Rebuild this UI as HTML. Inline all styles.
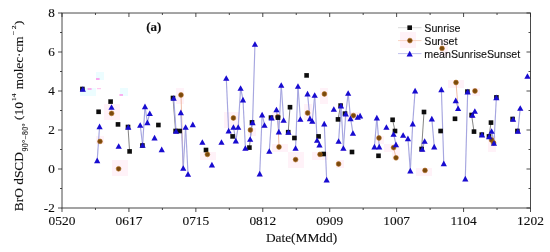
<!DOCTYPE html><html><head><meta charset="utf-8"><title>chart</title><style>html,body{margin:0;padding:0;background:#fff}svg{display:block}text{font-family:"Liberation Serif",serif;fill:#111;stroke:#111;stroke-width:0.12px}.s{font-family:"Liberation Sans",sans-serif;stroke-width:0.1px}</style></head><body>
<svg width="550" height="252" viewBox="0 0 550 252">
<rect width="550" height="252" fill="#fff"/>
<defs><filter id="b" x="0" y="0" width="550" height="252" filterUnits="userSpaceOnUse"><feGaussianBlur stdDeviation="0.5"/></filter></defs><g filter="url(#b)">
<rect x="96" y="136" width="8" height="8" fill="#fff2f8"/>
<rect x="104" y="104" width="8" height="8" fill="#fff2f8"/>
<rect x="104" y="112" width="8" height="8" fill="#fff2f8"/>
<rect x="112" y="104" width="8" height="8" fill="#fff2f8"/>
<rect x="112" y="112" width="8" height="8" fill="#fff2f8"/>
<rect x="112" y="160" width="8" height="8" fill="#fff2f8"/>
<rect x="112" y="168" width="8" height="8" fill="#fff2f8"/>
<rect x="120" y="160" width="8" height="8" fill="#fff2f8"/>
<rect x="120" y="168" width="8" height="8" fill="#fff2f8"/>
<rect x="176" y="88" width="8" height="8" fill="#fff2f8"/>
<rect x="176" y="96" width="8" height="8" fill="#fff2f8"/>
<rect x="200" y="152" width="8" height="8" fill="#fff2f8"/>
<rect x="208" y="152" width="8" height="8" fill="#fff2f8"/>
<rect x="224" y="112" width="8" height="8" fill="#fff2f8"/>
<rect x="224" y="120" width="8" height="8" fill="#fff2f8"/>
<rect x="232" y="112" width="8" height="8" fill="#fff2f8"/>
<rect x="232" y="120" width="8" height="8" fill="#fff2f8"/>
<rect x="248" y="128" width="8" height="8" fill="#fff2f8"/>
<rect x="272" y="112" width="8" height="8" fill="#fff2f8"/>
<rect x="272" y="144" width="8" height="8" fill="#fff2f8"/>
<rect x="280" y="144" width="8" height="8" fill="#fff2f8"/>
<rect x="288" y="152" width="8" height="8" fill="#fff2f8"/>
<rect x="288" y="160" width="8" height="8" fill="#fff2f8"/>
<rect x="296" y="152" width="8" height="8" fill="#fff2f8"/>
<rect x="296" y="160" width="8" height="8" fill="#fff2f8"/>
<rect x="304" y="104" width="8" height="8" fill="#fff2f8"/>
<rect x="304" y="112" width="8" height="8" fill="#fff2f8"/>
<rect x="312" y="152" width="8" height="8" fill="#fff2f8"/>
<rect x="320" y="88" width="8" height="8" fill="#fff2f8"/>
<rect x="320" y="96" width="8" height="8" fill="#fff2f8"/>
<rect x="320" y="152" width="8" height="8" fill="#fff2f8"/>
<rect x="336" y="160" width="8" height="8" fill="#fff2f8"/>
<rect x="344" y="112" width="8" height="8" fill="#fff2f8"/>
<rect x="352" y="112" width="8" height="8" fill="#fff2f8"/>
<rect x="376" y="136" width="8" height="8" fill="#fff2f8"/>
<rect x="384" y="144" width="8" height="8" fill="#fff2f8"/>
<rect x="392" y="144" width="8" height="8" fill="#fff2f8"/>
<rect x="392" y="152" width="8" height="8" fill="#fff2f8"/>
<rect x="400" y="32" width="8" height="8" fill="#fff2f8"/>
<rect x="400" y="40" width="8" height="8" fill="#fff2f8"/>
<rect x="408" y="32" width="8" height="8" fill="#fff2f8"/>
<rect x="408" y="40" width="8" height="8" fill="#fff2f8"/>
<rect x="416" y="168" width="8" height="8" fill="#fff2f8"/>
<rect x="424" y="168" width="8" height="8" fill="#fff2f8"/>
<rect x="440" y="40" width="8" height="8" fill="#fff2f8"/>
<rect x="440" y="48" width="8" height="8" fill="#fff2f8"/>
<rect x="448" y="80" width="8" height="8" fill="#fff2f8"/>
<rect x="456" y="80" width="8" height="8" fill="#fff2f8"/>
<rect x="472" y="88" width="8" height="8" fill="#fff2f8"/>
<rect x="488" y="136" width="8" height="8" fill="#fff2f8"/>
<rect x="488" y="144" width="8" height="8" fill="#fff2f8"/>
<rect x="96" y="72" width="8" height="8" fill="#ecfdff"/>
<rect x="80" y="88" width="16" height="8" fill="#ecfdff"/>
<rect x="120" y="88" width="8" height="8" fill="#ecfdff"/>
<rect x="96.0" y="78.4" width="3.6" height="1.2" fill="#ff70e4"/>
<rect x="87.6" y="88.4" width="4" height="1.2" fill="#ff80e6"/>
<rect x="97.0" y="88.0" width="4" height="1.2" fill="#ffc8f0"/>
<rect x="119.4" y="94.4" width="3.6" height="1.2" fill="#ff80e6"/>
<line x1="128" y1="127" x2="129.6" y2="151.4" stroke="#666" stroke-width="0.8"/>
<line x1="173" y1="98" x2="175.6" y2="131" stroke="#666" stroke-width="0.8"/>
<line x1="249.4" y1="147.6" x2="252" y2="122.4" stroke="#666" stroke-width="0.8"/>
<line x1="288.2" y1="132.2" x2="290" y2="107.2" stroke="#666" stroke-width="0.8"/>
<line x1="338" y1="119.4" x2="340.6" y2="105.6" stroke="#666" stroke-width="0.8"/>
<line x1="392.6" y1="119.8" x2="395" y2="131" stroke="#666" stroke-width="0.8"/>
<line x1="421.6" y1="149" x2="424" y2="112" stroke="#666" stroke-width="0.8"/>
<line x1="471.6" y1="115" x2="474" y2="131.6" stroke="#666" stroke-width="0.8"/>
<line x1="489" y1="136.4" x2="491" y2="122.6" stroke="#666" stroke-width="0.8"/>
<line x1="181" y1="95" x2="183.2" y2="168" stroke="#e8a488" stroke-width="0.75"/>
<line x1="277.8" y1="116.8" x2="279" y2="147" stroke="#e8a488" stroke-width="0.75"/>
<line x1="393.6" y1="147.6" x2="396" y2="157.8" stroke="#e8a488" stroke-width="0.75"/>
<line x1="456" y1="82.5" x2="458.1" y2="108.2" stroke="#e8a488" stroke-width="0.75"/>
<line x1="491.6" y1="140" x2="493.6" y2="143" stroke="#e8a488" stroke-width="0.75"/>
<line x1="97.19" y1="160.4" x2="99.58" y2="126.4" stroke="#a6a6e0" stroke-width="1.15"/>
<line x1="140.21" y1="125" x2="142.6" y2="145" stroke="#a6a6e0" stroke-width="1.15"/>
<line x1="142.6" y1="145" x2="144.99" y2="106.4" stroke="#a6a6e0" stroke-width="1.15"/>
<line x1="144.99" y1="106.4" x2="147.38" y2="122.4" stroke="#a6a6e0" stroke-width="1.15"/>
<line x1="147.38" y1="122.4" x2="149.77" y2="113.2" stroke="#a6a6e0" stroke-width="1.15"/>
<line x1="173.68" y1="98" x2="176.07" y2="131" stroke="#a6a6e0" stroke-width="1.15"/>
<line x1="180.85" y1="112.4" x2="183.24" y2="168" stroke="#a6a6e0" stroke-width="1.15"/>
<line x1="183.24" y1="168" x2="185.63" y2="127" stroke="#a6a6e0" stroke-width="1.15"/>
<line x1="185.63" y1="127" x2="188.02" y2="174" stroke="#a6a6e0" stroke-width="1.15"/>
<line x1="226.26" y1="78" x2="228.65" y2="130.6" stroke="#a6a6e0" stroke-width="1.15"/>
<line x1="233.43" y1="127" x2="235.82" y2="140.6" stroke="#a6a6e0" stroke-width="1.15"/>
<line x1="235.82" y1="140.6" x2="238.21" y2="127" stroke="#a6a6e0" stroke-width="1.15"/>
<line x1="238.21" y1="127" x2="240.6" y2="88" stroke="#a6a6e0" stroke-width="1.15"/>
<line x1="240.6" y1="88" x2="242.99" y2="99.6" stroke="#a6a6e0" stroke-width="1.15"/>
<line x1="242.99" y1="99.6" x2="245.38" y2="148" stroke="#a6a6e0" stroke-width="1.15"/>
<line x1="250.16" y1="139" x2="252.56" y2="122.4" stroke="#a6a6e0" stroke-width="1.15"/>
<line x1="252.56" y1="122.4" x2="254.95" y2="44" stroke="#a6a6e0" stroke-width="1.15"/>
<line x1="259.73" y1="173.6" x2="262.12" y2="114.6" stroke="#a6a6e0" stroke-width="1.15"/>
<line x1="262.12" y1="114.6" x2="264.51" y2="125" stroke="#a6a6e0" stroke-width="1.15"/>
<line x1="269.29" y1="151" x2="271.68" y2="117.6" stroke="#a6a6e0" stroke-width="1.15"/>
<line x1="276.46" y1="109.5" x2="278.85" y2="131.6" stroke="#a6a6e0" stroke-width="1.15"/>
<line x1="278.85" y1="131.6" x2="281.24" y2="85" stroke="#a6a6e0" stroke-width="1.15"/>
<line x1="281.24" y1="85" x2="283.63" y2="120" stroke="#a6a6e0" stroke-width="1.15"/>
<line x1="295.58" y1="148" x2="297.97" y2="86" stroke="#a6a6e0" stroke-width="1.15"/>
<line x1="297.97" y1="86" x2="300.36" y2="119" stroke="#a6a6e0" stroke-width="1.15"/>
<line x1="307.53" y1="93.6" x2="309.92" y2="118.4" stroke="#a6a6e0" stroke-width="1.15"/>
<line x1="309.92" y1="118.4" x2="312.31" y2="121" stroke="#a6a6e0" stroke-width="1.15"/>
<line x1="312.31" y1="121" x2="314.7" y2="95" stroke="#a6a6e0" stroke-width="1.15"/>
<line x1="314.7" y1="95" x2="317.09" y2="140" stroke="#a6a6e0" stroke-width="1.15"/>
<line x1="317.09" y1="140" x2="319.48" y2="144.6" stroke="#a6a6e0" stroke-width="1.15"/>
<line x1="324.26" y1="123.6" x2="326.65" y2="179.6" stroke="#a6a6e0" stroke-width="1.15"/>
<line x1="338.61" y1="141" x2="341.0" y2="105.6" stroke="#a6a6e0" stroke-width="1.15"/>
<line x1="341.0" y1="105.6" x2="343.39" y2="148" stroke="#a6a6e0" stroke-width="1.15"/>
<line x1="343.39" y1="148" x2="345.78" y2="113.6" stroke="#a6a6e0" stroke-width="1.15"/>
<line x1="345.78" y1="113.6" x2="348.17" y2="93" stroke="#a6a6e0" stroke-width="1.15"/>
<line x1="348.17" y1="93" x2="350.56" y2="118.4" stroke="#a6a6e0" stroke-width="1.15"/>
<line x1="350.56" y1="118.4" x2="352.95" y2="133" stroke="#a6a6e0" stroke-width="1.15"/>
<line x1="357.73" y1="117" x2="360.12" y2="115.6" stroke="#a6a6e0" stroke-width="1.15"/>
<line x1="374.46" y1="146.6" x2="376.85" y2="117.6" stroke="#a6a6e0" stroke-width="1.15"/>
<line x1="376.85" y1="117.6" x2="379.24" y2="146.6" stroke="#a6a6e0" stroke-width="1.15"/>
<line x1="393.58" y1="134" x2="395.97" y2="144.4" stroke="#a6a6e0" stroke-width="1.15"/>
<line x1="407.93" y1="138.4" x2="410.32" y2="170.6" stroke="#a6a6e0" stroke-width="1.15"/>
<line x1="410.32" y1="170.6" x2="412.71" y2="123.6" stroke="#a6a6e0" stroke-width="1.15"/>
<line x1="412.71" y1="123.6" x2="415.1" y2="90.6" stroke="#a6a6e0" stroke-width="1.15"/>
<line x1="422.27" y1="149" x2="424.66" y2="141" stroke="#a6a6e0" stroke-width="1.15"/>
<line x1="431.83" y1="118.6" x2="434.22" y2="146.6" stroke="#a6a6e0" stroke-width="1.15"/>
<line x1="441.39" y1="89.4" x2="443.78" y2="163.4" stroke="#a6a6e0" stroke-width="1.15"/>
<line x1="455.73" y1="100.4" x2="458.12" y2="108.2" stroke="#a6a6e0" stroke-width="1.15"/>
<line x1="465.29" y1="178.6" x2="467.68" y2="91.6" stroke="#a6a6e0" stroke-width="1.15"/>
<line x1="472.46" y1="115" x2="474.85" y2="111" stroke="#a6a6e0" stroke-width="1.15"/>
<line x1="489.2" y1="136.4" x2="491.59" y2="131" stroke="#a6a6e0" stroke-width="1.15"/>
<line x1="491.59" y1="131" x2="493.98" y2="143" stroke="#a6a6e0" stroke-width="1.15"/>
<line x1="493.98" y1="143" x2="496.37" y2="97.4" stroke="#a6a6e0" stroke-width="1.15"/>
<line x1="517.88" y1="131" x2="520.27" y2="108" stroke="#a6a6e0" stroke-width="1.15"/>
<circle cx="277.8" cy="116.8" r="2.4" fill="#7a4a08" stroke="#b06a20" stroke-width="0.6"/>
<rect x="80.10" y="86.70" width="4.6" height="4.6" fill="#0a0a0a"/>
<rect x="96.30" y="109.50" width="4.6" height="4.6" fill="#0a0a0a"/>
<rect x="108.30" y="99.30" width="4.6" height="4.6" fill="#0a0a0a"/>
<rect x="115.70" y="122.10" width="4.6" height="4.6" fill="#0a0a0a"/>
<rect x="125.70" y="124.70" width="4.6" height="4.6" fill="#0a0a0a"/>
<rect x="127.30" y="149.10" width="4.6" height="4.6" fill="#0a0a0a"/>
<rect x="140.10" y="143.20" width="4.6" height="4.6" fill="#0a0a0a"/>
<rect x="156.10" y="122.70" width="4.6" height="4.6" fill="#0a0a0a"/>
<rect x="170.70" y="95.70" width="4.6" height="4.6" fill="#0a0a0a"/>
<rect x="173.30" y="128.70" width="4.6" height="4.6" fill="#0a0a0a"/>
<rect x="177.30" y="128.70" width="4.6" height="4.6" fill="#0a0a0a"/>
<rect x="203.70" y="147.70" width="4.6" height="4.6" fill="#0a0a0a"/>
<rect x="230.30" y="134.10" width="4.6" height="4.6" fill="#0a0a0a"/>
<rect x="247.10" y="145.30" width="4.6" height="4.6" fill="#0a0a0a"/>
<rect x="249.70" y="120.10" width="4.6" height="4.6" fill="#0a0a0a"/>
<rect x="268.70" y="115.30" width="4.6" height="4.6" fill="#0a0a0a"/>
<rect x="275.70" y="115.30" width="4.6" height="4.6" fill="#0a0a0a"/>
<rect x="287.70" y="104.90" width="4.6" height="4.6" fill="#0a0a0a"/>
<rect x="292.10" y="135.70" width="4.6" height="4.6" fill="#0a0a0a"/>
<rect x="304.30" y="73.10" width="4.6" height="4.6" fill="#0a0a0a"/>
<rect x="316.30" y="134.10" width="4.6" height="4.6" fill="#0a0a0a"/>
<rect x="321.30" y="151.70" width="4.6" height="4.6" fill="#0a0a0a"/>
<rect x="335.70" y="117.10" width="4.6" height="4.6" fill="#0a0a0a"/>
<rect x="338.30" y="103.30" width="4.6" height="4.6" fill="#0a0a0a"/>
<rect x="342.70" y="111.30" width="4.6" height="4.6" fill="#0a0a0a"/>
<rect x="349.70" y="149.70" width="4.6" height="4.6" fill="#0a0a0a"/>
<rect x="376.20" y="153.50" width="4.6" height="4.6" fill="#0a0a0a"/>
<rect x="390.30" y="117.50" width="4.6" height="4.6" fill="#0a0a0a"/>
<rect x="392.70" y="128.70" width="4.6" height="4.6" fill="#0a0a0a"/>
<rect x="419.30" y="146.70" width="4.6" height="4.6" fill="#0a0a0a"/>
<rect x="421.70" y="109.70" width="4.6" height="4.6" fill="#0a0a0a"/>
<rect x="438.30" y="128.70" width="4.6" height="4.6" fill="#0a0a0a"/>
<rect x="452.70" y="116.50" width="4.6" height="4.6" fill="#0a0a0a"/>
<rect x="465.10" y="89.30" width="4.6" height="4.6" fill="#0a0a0a"/>
<rect x="469.30" y="112.70" width="4.6" height="4.6" fill="#0a0a0a"/>
<rect x="471.70" y="129.30" width="4.6" height="4.6" fill="#0a0a0a"/>
<rect x="479.50" y="132.30" width="4.6" height="4.6" fill="#0a0a0a"/>
<rect x="486.70" y="134.10" width="4.6" height="4.6" fill="#0a0a0a"/>
<rect x="488.70" y="120.30" width="4.6" height="4.6" fill="#0a0a0a"/>
<rect x="494.10" y="95.10" width="4.6" height="4.6" fill="#0a0a0a"/>
<rect x="510.30" y="116.70" width="4.6" height="4.6" fill="#0a0a0a"/>
<rect x="515.10" y="128.70" width="4.6" height="4.6" fill="#0a0a0a"/>
<rect x="285.90" y="129.90" width="4.6" height="4.6" fill="#0a0a0a"/>
<circle cx="100" cy="141.4" r="2.4" fill="#7a4a08" stroke="#b06a20" stroke-width="0.6"/>
<circle cx="111.6" cy="113.4" r="2.4" fill="#7a4a08" stroke="#b06a20" stroke-width="0.6"/>
<circle cx="118.6" cy="168.8" r="2.4" fill="#7a4a08" stroke="#b06a20" stroke-width="0.6"/>
<circle cx="181" cy="95" r="2.4" fill="#7a4a08" stroke="#b06a20" stroke-width="0.6"/>
<circle cx="207.4" cy="154.4" r="2.4" fill="#7a4a08" stroke="#b06a20" stroke-width="0.6"/>
<circle cx="233.4" cy="118" r="2.4" fill="#7a4a08" stroke="#b06a20" stroke-width="0.6"/>
<circle cx="250.4" cy="130" r="2.4" fill="#7a4a08" stroke="#b06a20" stroke-width="0.6"/>
<circle cx="279" cy="147" r="2.4" fill="#7a4a08" stroke="#b06a20" stroke-width="0.6"/>
<circle cx="295.6" cy="159.6" r="2.4" fill="#7a4a08" stroke="#b06a20" stroke-width="0.6"/>
<circle cx="307.6" cy="113" r="2.4" fill="#7a4a08" stroke="#b06a20" stroke-width="0.6"/>
<circle cx="320" cy="154.4" r="2.4" fill="#7a4a08" stroke="#b06a20" stroke-width="0.6"/>
<circle cx="324.4" cy="94" r="2.4" fill="#7a4a08" stroke="#b06a20" stroke-width="0.6"/>
<circle cx="338.6" cy="164" r="2.4" fill="#7a4a08" stroke="#b06a20" stroke-width="0.6"/>
<circle cx="353.4" cy="115.6" r="2.4" fill="#7a4a08" stroke="#b06a20" stroke-width="0.6"/>
<circle cx="379" cy="138" r="2.4" fill="#7a4a08" stroke="#b06a20" stroke-width="0.6"/>
<circle cx="393.6" cy="147.6" r="2.4" fill="#7a4a08" stroke="#b06a20" stroke-width="0.6"/>
<circle cx="396" cy="157.8" r="2.4" fill="#7a4a08" stroke="#b06a20" stroke-width="0.6"/>
<circle cx="425" cy="170.4" r="2.4" fill="#7a4a08" stroke="#b06a20" stroke-width="0.6"/>
<circle cx="442" cy="48.4" r="2.4" fill="#7a4a08" stroke="#b06a20" stroke-width="0.6"/>
<circle cx="456" cy="82.5" r="2.4" fill="#7a4a08" stroke="#b06a20" stroke-width="0.6"/>
<circle cx="475" cy="91" r="2.4" fill="#7a4a08" stroke="#b06a20" stroke-width="0.6"/>
<circle cx="491.6" cy="140" r="2.4" fill="#7a4a08" stroke="#b06a20" stroke-width="0.6"/>
<circle cx="493.6" cy="143" r="2.4" fill="#7a4a08" stroke="#b06a20" stroke-width="0.6"/>
<path d="M82.84 86.20L85.94 91.80L79.74 91.80Z" fill="#1808d0"/>
<path d="M97.19 157.60L100.29 163.20L94.09 163.20Z" fill="#1808d0"/>
<path d="M99.58 123.60L102.68 129.20L96.48 129.20Z" fill="#1808d0"/>
<path d="M111.53 104.20L114.63 109.80L108.43 109.80Z" fill="#1808d0"/>
<path d="M118.70 143.20L121.80 148.80L115.60 148.80Z" fill="#1808d0"/>
<path d="M128.26 124.20L131.36 129.80L125.16 129.80Z" fill="#1808d0"/>
<path d="M140.21 122.20L143.31 127.80L137.11 127.80Z" fill="#1808d0"/>
<path d="M142.60 142.20L145.70 147.80L139.50 147.80Z" fill="#1808d0"/>
<path d="M144.99 103.60L148.09 109.20L141.89 109.20Z" fill="#1808d0"/>
<path d="M147.38 119.60L150.48 125.20L144.28 125.20Z" fill="#1808d0"/>
<path d="M149.77 110.40L152.87 116.00L146.67 116.00Z" fill="#1808d0"/>
<path d="M154.55 134.80L157.65 140.40L151.45 140.40Z" fill="#1808d0"/>
<path d="M161.72 146.60L164.82 152.20L158.62 152.20Z" fill="#1808d0"/>
<path d="M173.68 95.20L176.78 100.80L170.58 100.80Z" fill="#1808d0"/>
<path d="M176.07 128.20L179.17 133.80L172.97 133.80Z" fill="#1808d0"/>
<path d="M180.85 109.60L183.95 115.20L177.75 115.20Z" fill="#1808d0"/>
<path d="M183.24 165.20L186.34 170.80L180.14 170.80Z" fill="#1808d0"/>
<path d="M185.63 124.20L188.73 129.80L182.53 129.80Z" fill="#1808d0"/>
<path d="M188.02 171.20L191.12 176.80L184.92 176.80Z" fill="#1808d0"/>
<path d="M192.80 121.60L195.90 127.20L189.70 127.20Z" fill="#1808d0"/>
<path d="M202.36 139.20L205.46 144.80L199.26 144.80Z" fill="#1808d0"/>
<path d="M211.92 161.80L215.02 167.40L208.82 167.40Z" fill="#1808d0"/>
<path d="M221.48 139.20L224.58 144.80L218.38 144.80Z" fill="#1808d0"/>
<path d="M226.26 75.20L229.36 80.80L223.16 80.80Z" fill="#1808d0"/>
<path d="M228.65 127.80L231.75 133.40L225.55 133.40Z" fill="#1808d0"/>
<path d="M233.43 124.20L236.53 129.80L230.33 129.80Z" fill="#1808d0"/>
<path d="M235.82 137.80L238.92 143.40L232.72 143.40Z" fill="#1808d0"/>
<path d="M238.21 124.20L241.31 129.80L235.11 129.80Z" fill="#1808d0"/>
<path d="M240.60 85.20L243.70 90.80L237.50 90.80Z" fill="#1808d0"/>
<path d="M242.99 96.80L246.09 102.40L239.89 102.40Z" fill="#1808d0"/>
<path d="M245.38 145.20L248.48 150.80L242.28 150.80Z" fill="#1808d0"/>
<path d="M250.16 136.20L253.26 141.80L247.06 141.80Z" fill="#1808d0"/>
<path d="M252.56 119.60L255.66 125.20L249.46 125.20Z" fill="#1808d0"/>
<path d="M254.95 41.20L258.05 46.80L251.85 46.80Z" fill="#1808d0"/>
<path d="M259.73 170.80L262.83 176.40L256.63 176.40Z" fill="#1808d0"/>
<path d="M262.12 111.80L265.22 117.40L259.02 117.40Z" fill="#1808d0"/>
<path d="M264.51 122.20L267.61 127.80L261.41 127.80Z" fill="#1808d0"/>
<path d="M269.29 148.20L272.39 153.80L266.19 153.80Z" fill="#1808d0"/>
<path d="M271.68 114.80L274.78 120.40L268.58 120.40Z" fill="#1808d0"/>
<path d="M276.46 106.70L279.56 112.30L273.36 112.30Z" fill="#1808d0"/>
<path d="M278.85 128.80L281.95 134.40L275.75 134.40Z" fill="#1808d0"/>
<path d="M281.24 82.20L284.34 87.80L278.14 87.80Z" fill="#1808d0"/>
<path d="M283.63 117.20L286.73 122.80L280.53 122.80Z" fill="#1808d0"/>
<path d="M288.41 129.20L291.51 134.80L285.31 134.80Z" fill="#1808d0"/>
<path d="M295.58 145.20L298.68 150.80L292.48 150.80Z" fill="#1808d0"/>
<path d="M297.97 83.20L301.07 88.80L294.87 88.80Z" fill="#1808d0"/>
<path d="M300.36 116.20L303.46 121.80L297.26 121.80Z" fill="#1808d0"/>
<path d="M307.53 90.80L310.63 96.40L304.43 96.40Z" fill="#1808d0"/>
<path d="M309.92 115.60L313.02 121.20L306.82 121.20Z" fill="#1808d0"/>
<path d="M312.31 118.20L315.41 123.80L309.21 123.80Z" fill="#1808d0"/>
<path d="M314.70 92.20L317.80 97.80L311.60 97.80Z" fill="#1808d0"/>
<path d="M317.09 137.20L320.19 142.80L313.99 142.80Z" fill="#1808d0"/>
<path d="M319.48 141.80L322.58 147.40L316.38 147.40Z" fill="#1808d0"/>
<path d="M324.26 120.80L327.36 126.40L321.16 126.40Z" fill="#1808d0"/>
<path d="M326.65 176.80L329.75 182.40L323.55 182.40Z" fill="#1808d0"/>
<path d="M333.83 106.20L336.93 111.80L330.73 111.80Z" fill="#1808d0"/>
<path d="M338.61 138.20L341.71 143.80L335.51 143.80Z" fill="#1808d0"/>
<path d="M341.00 102.80L344.10 108.40L337.90 108.40Z" fill="#1808d0"/>
<path d="M343.39 145.20L346.49 150.80L340.29 150.80Z" fill="#1808d0"/>
<path d="M345.78 110.80L348.88 116.40L342.68 116.40Z" fill="#1808d0"/>
<path d="M348.17 90.20L351.27 95.80L345.07 95.80Z" fill="#1808d0"/>
<path d="M350.56 115.60L353.66 121.20L347.46 121.20Z" fill="#1808d0"/>
<path d="M352.95 130.20L356.05 135.80L349.85 135.80Z" fill="#1808d0"/>
<path d="M357.73 114.20L360.83 119.80L354.63 119.80Z" fill="#1808d0"/>
<path d="M360.12 112.80L363.22 118.40L357.02 118.40Z" fill="#1808d0"/>
<path d="M374.46 143.80L377.56 149.40L371.36 149.40Z" fill="#1808d0"/>
<path d="M376.85 114.80L379.95 120.40L373.75 120.40Z" fill="#1808d0"/>
<path d="M379.24 143.80L382.34 149.40L376.14 149.40Z" fill="#1808d0"/>
<path d="M386.41 124.20L389.51 129.80L383.31 129.80Z" fill="#1808d0"/>
<path d="M393.58 131.20L396.68 136.80L390.48 136.80Z" fill="#1808d0"/>
<path d="M395.97 141.60L399.07 147.20L392.87 147.20Z" fill="#1808d0"/>
<path d="M403.14 132.20L406.24 137.80L400.04 137.80Z" fill="#1808d0"/>
<path d="M407.93 135.60L411.03 141.20L404.83 141.20Z" fill="#1808d0"/>
<path d="M410.32 167.80L413.42 173.40L407.22 173.40Z" fill="#1808d0"/>
<path d="M412.71 120.80L415.81 126.40L409.61 126.40Z" fill="#1808d0"/>
<path d="M415.10 87.80L418.20 93.40L412.00 93.40Z" fill="#1808d0"/>
<path d="M422.27 146.20L425.37 151.80L419.17 151.80Z" fill="#1808d0"/>
<path d="M424.66 138.20L427.76 143.80L421.56 143.80Z" fill="#1808d0"/>
<path d="M431.83 115.80L434.93 121.40L428.73 121.40Z" fill="#1808d0"/>
<path d="M434.22 143.80L437.32 149.40L431.12 149.40Z" fill="#1808d0"/>
<path d="M441.39 86.60L444.49 92.20L438.29 92.20Z" fill="#1808d0"/>
<path d="M443.78 160.60L446.88 166.20L440.68 166.20Z" fill="#1808d0"/>
<path d="M455.73 97.60L458.83 103.20L452.63 103.20Z" fill="#1808d0"/>
<path d="M458.12 105.40L461.22 111.00L455.02 111.00Z" fill="#1808d0"/>
<path d="M465.29 175.80L468.39 181.40L462.19 181.40Z" fill="#1808d0"/>
<path d="M467.68 88.80L470.78 94.40L464.58 94.40Z" fill="#1808d0"/>
<path d="M472.46 112.20L475.56 117.80L469.36 117.80Z" fill="#1808d0"/>
<path d="M474.85 108.20L477.95 113.80L471.75 113.80Z" fill="#1808d0"/>
<path d="M482.02 131.80L485.12 137.40L478.92 137.40Z" fill="#1808d0"/>
<path d="M489.20 133.60L492.30 139.20L486.10 139.20Z" fill="#1808d0"/>
<path d="M491.59 128.20L494.69 133.80L488.49 133.80Z" fill="#1808d0"/>
<path d="M493.98 140.20L497.08 145.80L490.88 145.80Z" fill="#1808d0"/>
<path d="M496.37 94.60L499.47 100.20L493.27 100.20Z" fill="#1808d0"/>
<path d="M513.10 116.20L516.20 121.80L510.00 121.80Z" fill="#1808d0"/>
<path d="M517.88 128.20L520.98 133.80L514.78 133.80Z" fill="#1808d0"/>
<path d="M520.27 105.20L523.37 110.80L517.17 110.80Z" fill="#1808d0"/>
<path d="M527.44 73.20L530.54 78.80L524.34 78.80Z" fill="#1808d0"/>
<rect x="62" y="13" width="468.5" height="195" fill="none" stroke="#2a2a2a" stroke-width="0.85"/>
<line x1="62.00" y1="208" x2="62.00" y2="212" stroke="#2a2a2a" stroke-width="0.85"/>
<line x1="62.00" y1="13" x2="62.00" y2="17" stroke="#2a2a2a" stroke-width="0.85"/>
<line x1="95.46" y1="208" x2="95.46" y2="210" stroke="#2a2a2a" stroke-width="0.85"/>
<line x1="95.46" y1="13" x2="95.46" y2="15" stroke="#2a2a2a" stroke-width="0.85"/>
<line x1="128.93" y1="208" x2="128.93" y2="212" stroke="#2a2a2a" stroke-width="0.85"/>
<line x1="128.93" y1="13" x2="128.93" y2="17" stroke="#2a2a2a" stroke-width="0.85"/>
<line x1="162.39" y1="208" x2="162.39" y2="210" stroke="#2a2a2a" stroke-width="0.85"/>
<line x1="162.39" y1="13" x2="162.39" y2="15" stroke="#2a2a2a" stroke-width="0.85"/>
<line x1="195.86" y1="208" x2="195.86" y2="212" stroke="#2a2a2a" stroke-width="0.85"/>
<line x1="195.86" y1="13" x2="195.86" y2="17" stroke="#2a2a2a" stroke-width="0.85"/>
<line x1="229.32" y1="208" x2="229.32" y2="210" stroke="#2a2a2a" stroke-width="0.85"/>
<line x1="229.32" y1="13" x2="229.32" y2="15" stroke="#2a2a2a" stroke-width="0.85"/>
<line x1="262.79" y1="208" x2="262.79" y2="212" stroke="#2a2a2a" stroke-width="0.85"/>
<line x1="262.79" y1="13" x2="262.79" y2="17" stroke="#2a2a2a" stroke-width="0.85"/>
<line x1="296.25" y1="208" x2="296.25" y2="210" stroke="#2a2a2a" stroke-width="0.85"/>
<line x1="296.25" y1="13" x2="296.25" y2="15" stroke="#2a2a2a" stroke-width="0.85"/>
<line x1="329.71" y1="208" x2="329.71" y2="212" stroke="#2a2a2a" stroke-width="0.85"/>
<line x1="329.71" y1="13" x2="329.71" y2="17" stroke="#2a2a2a" stroke-width="0.85"/>
<line x1="363.18" y1="208" x2="363.18" y2="210" stroke="#2a2a2a" stroke-width="0.85"/>
<line x1="363.18" y1="13" x2="363.18" y2="15" stroke="#2a2a2a" stroke-width="0.85"/>
<line x1="396.64" y1="208" x2="396.64" y2="212" stroke="#2a2a2a" stroke-width="0.85"/>
<line x1="396.64" y1="13" x2="396.64" y2="17" stroke="#2a2a2a" stroke-width="0.85"/>
<line x1="430.11" y1="208" x2="430.11" y2="210" stroke="#2a2a2a" stroke-width="0.85"/>
<line x1="430.11" y1="13" x2="430.11" y2="15" stroke="#2a2a2a" stroke-width="0.85"/>
<line x1="463.57" y1="208" x2="463.57" y2="212" stroke="#2a2a2a" stroke-width="0.85"/>
<line x1="463.57" y1="13" x2="463.57" y2="17" stroke="#2a2a2a" stroke-width="0.85"/>
<line x1="497.04" y1="208" x2="497.04" y2="210" stroke="#2a2a2a" stroke-width="0.85"/>
<line x1="497.04" y1="13" x2="497.04" y2="15" stroke="#2a2a2a" stroke-width="0.85"/>
<line x1="530.50" y1="208" x2="530.50" y2="212" stroke="#2a2a2a" stroke-width="0.85"/>
<line x1="530.50" y1="13" x2="530.50" y2="17" stroke="#2a2a2a" stroke-width="0.85"/>
<line x1="58" y1="13.00" x2="62" y2="13.00" stroke="#2a2a2a" stroke-width="0.85"/>
<line x1="526.5" y1="13.00" x2="530.5" y2="13.00" stroke="#2a2a2a" stroke-width="0.85"/>
<line x1="60" y1="32.50" x2="62" y2="32.50" stroke="#2a2a2a" stroke-width="0.85"/>
<line x1="528.5" y1="32.50" x2="530.5" y2="32.50" stroke="#2a2a2a" stroke-width="0.85"/>
<line x1="58" y1="52.00" x2="62" y2="52.00" stroke="#2a2a2a" stroke-width="0.85"/>
<line x1="526.5" y1="52.00" x2="530.5" y2="52.00" stroke="#2a2a2a" stroke-width="0.85"/>
<line x1="60" y1="71.50" x2="62" y2="71.50" stroke="#2a2a2a" stroke-width="0.85"/>
<line x1="528.5" y1="71.50" x2="530.5" y2="71.50" stroke="#2a2a2a" stroke-width="0.85"/>
<line x1="58" y1="91.00" x2="62" y2="91.00" stroke="#2a2a2a" stroke-width="0.85"/>
<line x1="526.5" y1="91.00" x2="530.5" y2="91.00" stroke="#2a2a2a" stroke-width="0.85"/>
<line x1="60" y1="110.50" x2="62" y2="110.50" stroke="#2a2a2a" stroke-width="0.85"/>
<line x1="528.5" y1="110.50" x2="530.5" y2="110.50" stroke="#2a2a2a" stroke-width="0.85"/>
<line x1="58" y1="130.00" x2="62" y2="130.00" stroke="#2a2a2a" stroke-width="0.85"/>
<line x1="526.5" y1="130.00" x2="530.5" y2="130.00" stroke="#2a2a2a" stroke-width="0.85"/>
<line x1="60" y1="149.50" x2="62" y2="149.50" stroke="#2a2a2a" stroke-width="0.85"/>
<line x1="528.5" y1="149.50" x2="530.5" y2="149.50" stroke="#2a2a2a" stroke-width="0.85"/>
<line x1="58" y1="169.00" x2="62" y2="169.00" stroke="#2a2a2a" stroke-width="0.85"/>
<line x1="526.5" y1="169.00" x2="530.5" y2="169.00" stroke="#2a2a2a" stroke-width="0.85"/>
<line x1="60" y1="188.50" x2="62" y2="188.50" stroke="#2a2a2a" stroke-width="0.85"/>
<line x1="528.5" y1="188.50" x2="530.5" y2="188.50" stroke="#2a2a2a" stroke-width="0.85"/>
<line x1="58" y1="208.00" x2="62" y2="208.00" stroke="#2a2a2a" stroke-width="0.85"/>
<line x1="526.5" y1="208.00" x2="530.5" y2="208.00" stroke="#2a2a2a" stroke-width="0.85"/>
<text transform="translate(54.80,17.20) scale(1.08,1)" font-size="12.2" text-anchor="end">8</text>
<text transform="translate(54.80,56.20) scale(1.08,1)" font-size="12.2" text-anchor="end">6</text>
<text transform="translate(54.80,95.20) scale(1.08,1)" font-size="12.2" text-anchor="end">4</text>
<text transform="translate(54.80,134.20) scale(1.08,1)" font-size="12.2" text-anchor="end">2</text>
<text transform="translate(54.80,173.20) scale(1.08,1)" font-size="12.2" text-anchor="end">0</text>
<text transform="translate(54.80,212.20) scale(1.08,1)" font-size="12.2" text-anchor="end">-2</text>
<text transform="translate(62.00,224.60) scale(1.1,1)" font-size="12.2" text-anchor="middle">0520</text>
<text transform="translate(128.93,224.60) scale(1.1,1)" font-size="12.2" text-anchor="middle">0617</text>
<text transform="translate(195.86,224.60) scale(1.1,1)" font-size="12.2" text-anchor="middle">0715</text>
<text transform="translate(262.79,224.60) scale(1.1,1)" font-size="12.2" text-anchor="middle">0812</text>
<text transform="translate(329.71,224.60) scale(1.1,1)" font-size="12.2" text-anchor="middle">0909</text>
<text transform="translate(396.64,224.60) scale(1.1,1)" font-size="12.2" text-anchor="middle">1007</text>
<text transform="translate(463.57,224.60) scale(1.1,1)" font-size="12.2" text-anchor="middle">1104</text>
<text transform="translate(530.50,224.60) scale(1.1,1)" font-size="12.2" text-anchor="middle">1202</text>
<text transform="translate(301.50,242.00) scale(1.045,1)" font-size="12.8" text-anchor="middle">Date(MMdd)</text>
<text transform="translate(153.80,31.00)" font-size="13" text-anchor="middle" font-weight="bold">(a)</text>
<text transform="translate(23.30,211.20) rotate(-90) scale(1.03,1)" font-size="13" text-anchor="start">BrO dSCD</text>
<text transform="translate(27.50,151.40) rotate(-90)" font-size="7.8" text-anchor="start" letter-spacing="0.3">90°−80°</text>
<text transform="translate(22.30,120.00) rotate(-90) scale(1.3,1)" font-size="10" text-anchor="start">(</text>
<text transform="translate(23.30,115.50) rotate(-90) scale(1.03,1)" font-size="13" text-anchor="start">10</text>
<text transform="translate(16.20,100.90) rotate(-90) scale(1.15,1)" font-size="6.4" text-anchor="start">14</text>
<text transform="translate(23.30,89.20) rotate(-90) scale(1.015,1)" font-size="13" text-anchor="start">molec·cm</text>
<text transform="translate(16.40,35.00) rotate(-90) scale(1.1,1)" font-size="7.0" text-anchor="start" letter-spacing="1.2">−2</text>
<text transform="translate(22.30,24.90) rotate(-90) scale(1.3,1)" font-size="10" text-anchor="start">)</text>
<line x1="398" y1="27.7" x2="421.5" y2="27.7" stroke="#d0d0d0" stroke-width="0.8"/>
<line x1="398" y1="40.6" x2="421.5" y2="40.6" stroke="#f6c8b4" stroke-width="0.8"/>
<line x1="398" y1="53.6" x2="421.5" y2="53.6" stroke="#b0b0e8" stroke-width="0.8"/>
<rect x="407.40" y="25.40" width="4.6" height="4.6" fill="#0a0a0a"/>
<circle cx="409.9" cy="40.6" r="2.4" fill="#7a4a08" stroke="#b06a20" stroke-width="0.6"/>
<path d="M409.70 50.80L412.80 56.40L406.60 56.40Z" fill="#1808d0"/>
<text class="s" x="424.3" y="31.60" font-size="10.65" fill="#222">Sunrise</text>
<text class="s" x="424.3" y="44.50" font-size="10.65" fill="#222">Sunset</text>
<text class="s" x="424.3" y="57.50" font-size="10.65" fill="#222">meanSunriseSunset</text>
</g></svg></body></html>
